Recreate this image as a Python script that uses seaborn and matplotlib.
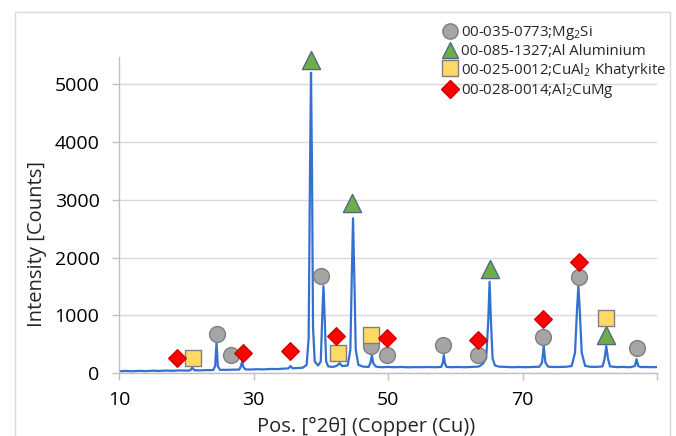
import pandas as pd
import matplotlib.pyplot as plt
import matplotlib as mpl
import seaborn as sns
from matplotlib.lines import Line2D
from matplotlib.patches import Rectangle

sns.set_style("white")
plt.rcParams["font.family"] = ["Open Sans", "DejaVu Sans"]
plt.rcParams["mathtext.fontset"] = "custom"
plt.rcParams["mathtext.rm"] = "Open Sans"
plt.rcParams["mathtext.it"] = "Open Sans"

## DATA
# measured pattern, read off the reference (2theta, counts)
two_theta = [10.0, 11, 12, 13, 14, 15, 16, 17, 18, 19, 20, 20.6, 20.9, 21.2, 22, 23,
             24.0, 24.3, 24.5, 24.7, 25.0, 26, 27, 27.9, 28.1, 28.3, 28.5, 28.8,
             29.5, 30.5, 31.5, 32.5, 33.5, 34.5, 35.2, 35.5, 35.8, 36.5, 37.3,
             37.9, 38.2, 38.4, 38.55, 38.7, 38.85, 39.1, 39.6, 40.0, 40.2, 40.4,
             40.6, 40.8, 41.1, 41.8, 42.4, 42.8, 43.2, 44.0, 44.4, 44.6, 44.8,
             45.0, 45.2, 45.6, 46.3, 47.1, 47.4, 47.6, 47.8, 48.2, 49, 50, 51, 52,
             53, 54, 55, 56, 57, 57.9, 58.15, 58.3, 58.45, 58.7, 59.5, 60.5, 61.5,
             62.5, 63.5, 64.0, 64.3, 64.6, 64.9, 65.1, 65.3, 65.55, 65.9, 66.5,
             67.5, 68.5, 69.5, 70.5, 71.5, 72.5, 72.9, 73.15, 73.4, 73.8, 74.5,
             75.5, 76.5, 77.3, 77.8, 78.1, 78.3, 78.5, 78.8, 79.3, 80.0, 81, 81.9,
             82.2, 82.45, 82.7, 83.0, 84, 85, 86, 86.7, 86.95, 87.2, 87.6, 88.5,
             89.5, 90]
counts = [30, 35, 30, 38, 32, 40, 36, 42, 38, 45, 42, 45, 95, 48, 45, 50,
          50, 120, 520, 120, 55, 55, 58, 60, 110, 195, 100, 62,
          60, 65, 62, 70, 68, 75, 80, 120, 82, 85, 90,
          140, 600, 3500, 5200, 3500, 800, 200, 130, 200, 900, 1505,
          900, 200, 115, 105, 125, 170, 120, 130, 400, 1600, 2680,
          1600, 400, 140, 110, 105, 180, 310, 170, 110, 100, 105, 100, 105,
          98, 102, 100, 104, 100, 105, 180, 310, 170, 105, 100, 104, 100,
          105, 112, 150, 195, 260, 900, 1580, 900, 250, 130, 110,
          105, 100, 104, 100, 105, 108, 180, 467, 180, 110, 104,
          105, 108, 120, 350, 1100, 1505, 1100, 350, 125, 108, 105, 115,
          250, 467, 250, 115, 102, 105, 100, 120, 240, 120, 102, 104,
          100, 104]

# phase identification markers
phases = ["00-035-0773;Mg$_2$Si", "00-085-1327;Al Aluminium",
          "00-025-0012;CuAl$_2$ Khatyrkite", "00-028-0014;Al$_2$CuMg"]
mg2si_x = [24.5, 26.6, 40.1, 47.5, 49.9, 58.2, 63.4, 73.1, 78.4, 87.0]
mg2si_y = [675, 310, 1680, 465, 310, 485, 310, 620, 1660, 430]
al_x = [38.5, 44.6, 65.1, 82.4]
al_y = [5415, 2940, 1800, 660]
cual2_x = [21.0, 42.5, 47.5, 82.4]
cual2_y = [260, 345, 655, 950]
al2cumg_x = [18.7, 28.5, 35.5, 42.2, 49.9, 63.4, 73.1, 78.4]
al2cumg_y = [260, 345, 380, 640, 605, 570, 935, 1920]

marker_styles = {phases[0]: "o", phases[1]: "^", phases[2]: "s", phases[3]: "D"}
face_colors = {phases[0]: "#a5a5a5", phases[1]: "#70ad47", phases[2]: "#ffd966", phases[3]: "#ff0000"}
edge_colors = {phases[0]: "#7f7f7f", phases[1]: "#4d6a8a", phases[2]: "#7f7f7f", phases[3]: "#d00000"}
marker_sizes = {phases[0]: 130, phases[1]: 170, phases[2]: 140, phases[3]: 80}
legend_sizes = {phases[0]: 11, phases[1]: 12, phases[2]: 11, phases[3]: 9}

pattern = pd.DataFrame({"two_theta": two_theta, "counts": counts})
peaks = pd.concat([
    pd.DataFrame({"x": mg2si_x, "y": mg2si_y, "phase": phases[0]}),
    pd.DataFrame({"x": al_x, "y": al_y, "phase": phases[1]}),
    pd.DataFrame({"x": cual2_x, "y": cual2_y, "phase": phases[2]}),
    pd.DataFrame({"x": al2cumg_x, "y": al2cumg_y, "phase": phases[3]}),
])

## PLOT
fig = plt.figure(figsize=(6.76, 4.36), dpi=100)
ax = fig.add_axes([0.176, 0.1445, 0.796, 0.7245])

ax.yaxis.grid(True, color="#d9d9d9", lw=1)
ax.set_axisbelow(True)

sns.lineplot(data=pattern, x="two_theta", y="counts", ax=ax, color="#3470d0",
             lw=1.6, estimator=None, sort=False, zorder=2)

for phase in phases:
    sub = peaks[peaks["phase"] == phase]
    sns.scatterplot(data=sub, x="x", y="y", ax=ax, marker=marker_styles[phase],
                    color=face_colors[phase], edgecolor=edge_colors[phase],
                    linewidth=1, s=marker_sizes[phase], zorder=3, legend=False,
                    clip_on=False)

ax.set_xlim(10, 90)
ax.set_ylim(0, 5470)
ax.set_xticks([10, 30, 50, 70, 90])
ax.set_xticklabels(["10", "30", "50", "70", ""])
ax.set_yticks([0, 1000, 2000, 3000, 4000, 5000])

for side in ["top", "right"]:
    ax.spines[side].set_visible(False)
for side in ["left", "bottom"]:
    ax.spines[side].set_color("#bfbfbf")
    ax.spines[side].set_linewidth(1)

ax.tick_params(axis="both", which="major", labelsize=14, color="#bfbfbf",
               length=5, width=1, direction="out", labelcolor="black")
ax.tick_params(axis="y", pad=9, left=True)
ax.tick_params(axis="x", pad=8, bottom=True)

ax.set_xlabel("Pos. [°2θ] (Copper (Cu))", fontsize=14.5)
ax.set_ylabel("Intensity [Counts]", fontsize=14.5)
ax.xaxis.set_label_coords((366 - 119) / 538, -0.14)
ax.yaxis.set_label_coords(-0.152, 0.408)
ax.yaxis.label.set_va("center")

handles = [Line2D([], [], ls="", marker=marker_styles[p], markersize=legend_sizes[p],
                  markerfacecolor=face_colors[p], markeredgecolor=edge_colors[p],
                  markeredgewidth=1) for p in phases]
fig.legend(handles, phases, loc="upper left", bbox_to_anchor=(443 / 676, 1 - 24 / 436),
           frameon=False, fontsize=10.8, handlelength=0.9, handletextpad=0.3,
           labelspacing=0.12, borderaxespad=0, borderpad=0)

fig.patches.append(Rectangle((15 / 676, -0.02), 655 / 676, 1 - 12 / 436 + 0.02,
                             transform=fig.transFigure, fill=False,
                             edgecolor="#d9d9d9", lw=1))

fig.savefig("out.png", dpi=100)
